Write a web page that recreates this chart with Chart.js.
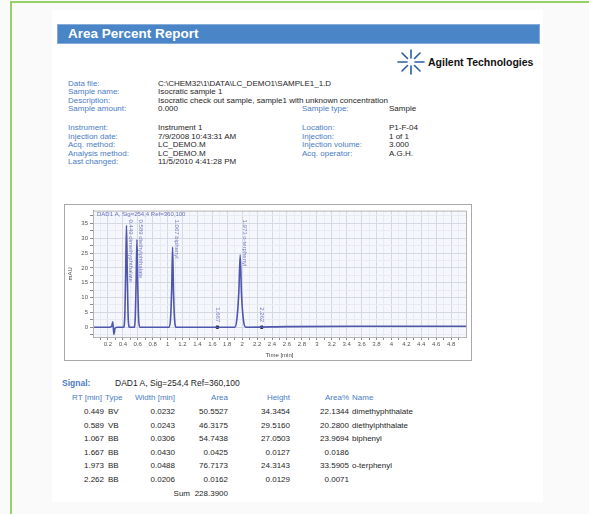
<!DOCTYPE html>
<html>
<head>
<meta charset="utf-8">
<script src="https://cdn.jsdelivr.net/npm/chart.js@4.4.1/dist/chart.umd.min.js"></script>
<style>
  body { margin: 0; width: 589px; height: 514px; position: relative; overflow: hidden;
         background: #fafafa; font-family: "Liberation Sans", Arial, sans-serif; }
  #paper { position: absolute; left: 52px; top: 10px; width: 491px; height: 492px; background: #fff; }
  .gl { position: absolute; background: #95d266; }
  .t { position: absolute; white-space: nowrap; font-size: 8px; line-height: 8px; color: #1e1e1e; }
  .lb { color: #4a7cc4; }
  .bold { font-weight: bold; }
  #bar { position: absolute; left: 57px; top: 24px; width: 481px; height: 18px; background: #4a85c8;
         border: 1px solid #86acd9; }
  #bar span { position: absolute; left: 10px; top: 1px; color: #fff; font-weight: bold; font-size: 13.5px; }
  #frame { position: absolute; left: 64px; top: 204px; width: 408px; height: 157px; box-sizing: border-box;
           border: 1px solid #a9a9a9; background: #fff; }
</style>
</head>
<body>
<div id="paper"></div>
<div class="gl" style="left:10px;top:1px;width:579px;height:1.5px;"></div>
<div class="gl" style="left:10px;top:1px;width:1.5px;height:513px;"></div>

<div id="bar"><span>Area Percent Report</span></div>

<svg style="position:absolute;left:397px;top:49px" width="28" height="26" viewBox="0 0 28 26">
  <g stroke="#2a5ca8" stroke-width="1.6" stroke-linecap="round">
    <line x1="14" y1="1" x2="14" y2="9"/><line x1="14" y1="17" x2="14" y2="25"/>
    <line x1="1" y1="13" x2="10" y2="13"/><line x1="18" y1="13" x2="27" y2="13"/>
    <line x1="5" y1="4" x2="10.5" y2="9.5"/><line x1="17.5" y1="16.5" x2="23" y2="22"/>
    <line x1="23" y1="4" x2="17.5" y2="9.5"/><line x1="10.5" y1="16.5" x2="5" y2="22"/>
  </g>
</svg>
<div class="t bold" style="left:428px;top:57px;font-size:10.5px;line-height:11px;color:#111;">Agilent Technologies</div>

<div class="t lb" style="left:68px;top:80px">Data file:</div>
<div class="t" style="left:158px;top:80px">C:\CHEM32\1\DATA\LC_DEMO1\SAMPLE1_1.D</div>
<div class="t lb" style="left:68px;top:88px">Sample name:</div>
<div class="t" style="left:158px;top:88px">Isocratic sample 1</div>
<div class="t lb" style="left:68px;top:97px">Description:</div>
<div class="t" style="left:158px;top:97px">Isocratic check out sample, sample1 with unknown concentration</div>
<div class="t lb" style="left:68px;top:105px">Sample amount:</div>
<div class="t" style="left:158px;top:105px">0.000</div>
<div class="t lb" style="left:302px;top:105px">Sample type:</div>
<div class="t" style="left:389px;top:105px">Sample</div>

<div class="t lb" style="left:68px;top:124px">Instrument:</div>
<div class="t" style="left:158px;top:124px">Instrument 1</div>
<div class="t lb" style="left:68px;top:133px">Injection date:</div>
<div class="t" style="left:158px;top:133px">7/9/2008 10:43:31 AM</div>
<div class="t lb" style="left:68px;top:141px">Acq. method:</div>
<div class="t" style="left:158px;top:141px">LC_DEMO.M</div>
<div class="t lb" style="left:68px;top:150px">Analysis method:</div>
<div class="t" style="left:158px;top:150px">LC_DEMO.M</div>
<div class="t lb" style="left:68px;top:158px">Last changed:</div>
<div class="t" style="left:158px;top:158px">11/5/2010 4:41:28 PM</div>

<div class="t lb" style="left:302px;top:124px">Location:</div>
<div class="t" style="left:389px;top:124px">P1-F-04</div>
<div class="t lb" style="left:302px;top:133px">Injection:</div>
<div class="t" style="left:389px;top:133px">1 of 1</div>
<div class="t lb" style="left:302px;top:141px">Injection volume:</div>
<div class="t" style="left:389px;top:141px">3.000</div>
<div class="t lb" style="left:302px;top:150px">Acq. operator:</div>
<div class="t" style="left:389px;top:150px">A.G.H.</div>

<div id="frame"><canvas id="chromChart"></canvas></div>

<div class="t lb bold" style="left:62px;top:379px;font-size:8.5px;">Signal:</div>
<div class="t" style="left:115px;top:379px;font-size:8.5px;">DAD1 A, Sig=254,4 Ref=360,100</div>

<script>
// ========= PEAK TABLE =================== //
const peakRT = [0.449, 0.589, 1.067, 1.667, 1.973, 2.262];
const peakType = ["BV", "VB", "BB", "BB", "BB", "BB"];
const peakWidth = [0.0232, 0.0243, 0.0306, 0.0430, 0.0488, 0.0206];
const peakArea = [50.5527, 46.3175, 54.7438, 0.0425, 76.7173, 0.0162];
const peakHeight = [34.3454, 29.5160, 27.0503, 0.0127, 24.3143, 0.0129];
const peakAreaPct = [22.1344, 20.2800, 23.9694, 0.0186, 33.5905, 0.0071];
const peakName = ["dimethyphthalate", "diethylphthalate", "biphenyl", "", "o-terphenyl", ""];
const areaSum = 228.3900;

// ========= SIGNAL TRACE ======================================= //
const traceTime = [0, 0.22, 0.25, 0.265, 0.28, 0.295, 0.32,
  0.41, 0.425, 0.437, 0.449, 0.461, 0.473, 0.49,
  0.55, 0.565, 0.577, 0.589, 0.601, 0.613, 0.63,
  1.02, 1.04, 1.055, 1.067, 1.079, 1.094, 1.115,
  1.9, 1.93, 1.955, 1.973, 1.991, 2.016, 2.05,
  2.6, 3.5, 5.0];
const traceSignal = [0, 0, 0.3, 1.8, -2.4, -0.4, 0,
  0, 3, 17, 34.35, 16, 2.5, 0,
  0, 2.5, 14, 29.52, 13, 2, 0,
  0, 3, 13, 27.05, 12, 2.5, 0,
  0, 3, 12, 24.31, 11, 2.5, 0,
  0.2, 0.3, 0.3];

// ========= AXIS TICKS =================== //
const xTicks = [0.2, 0.4, 0.6, 0.8, 1, 1.2, 1.4, 1.6, 1.8, 2, 2.2, 2.4, 2.6, 2.8,
  3, 3.2, 3.4, 3.6, 3.8, 4, 4.2, 4.4, 4.6, 4.8];
const yTicks = [0, 5, 10, 15, 20, 25, 30, 35];

// ========= TABLE BELOW THE CHART =================== //
function put(text, x, y, right, cls) {
  let d = document.createElement("div");
  d.className = "t " + (cls || "");
  d.textContent = text;
  d.style.left = x + "px";
  d.style.top = (y - 4) + "px";
  if (right) d.style.transform = "translateX(-100%)";
  document.body.appendChild(d);
}
let headY = 398;
put("RT [min]", 102, headY, true, "lb");
put("Type", 105, headY, false, "lb");
put("Width [min]", 175, headY, true, "lb");
put("Area", 228, headY, true, "lb");
put("Height", 290, headY, true, "lb");
put("Area%", 349, headY, true, "lb");
put("Name", 352, headY, false, "lb");
peakRT.forEach((rt, i) => {
  let y = 412 + i * 13.6;
  put(rt.toFixed(3), 104, y, true);
  put(peakType[i], 108, y, false);
  put(peakWidth[i].toFixed(4), 175, y, true);
  put(peakArea[i].toFixed(4), 228, y, true);
  put(peakHeight[i].toFixed(4), 290, y, true);
  put(peakAreaPct[i].toFixed(4), 349, y, true);
  if (peakName[i]) put(peakName[i], 352, y, false);
});
put("Sum", 190, 494, true);
put(areaSum.toFixed(4), 228, 494, true);

// ========= CHART PLUGINS =================== //
let plotBackground = {
  id: "plotBackground",
  beforeDraw(chart) {
    let { ctx, chartArea: a } = chart;
    ctx.save();
    ctx.fillStyle = "#f5f7fc";
    ctx.fillRect(a.left, a.top, a.right - a.left, a.bottom - a.top);
    ctx.restore();
  },
  afterDraw(chart) {
    let { ctx, chartArea: a } = chart;
    ctx.save();
    ctx.strokeStyle = "#b4b4b4";
    ctx.lineWidth = 1;
    ctx.strokeRect(a.left + 0.5, a.top + 0.5, a.right - a.left, a.bottom - a.top);
    ctx.fillStyle = "#6c72bd";
    ctx.font = "6px 'Liberation Sans'";
    ctx.textBaseline = "top";
    ctx.fillText("DAD1 A, Sig=254,4 Ref=360,100", a.left + 4, a.top + 1);
    ctx.restore();
  },
};

let peakLabels = {
  id: "peakLabels",
  afterDatasetsDraw(chart) {
    let { ctx, chartArea: a, scales } = chart;
    ctx.save();
    ctx.font = "6px 'Liberation Sans'";
    ctx.fillStyle = "#7379c6";
    ctx.textBaseline = "middle";
    peakRT.forEach((rt, i) => {
      let txt = rt.toFixed(3) + (peakName[i] ? " " + peakName[i] : "");
      let w = ctx.measureText(txt).width;
      let big = peakHeight[i] > 1;
      let px = scales.x.getPixelForValue(rt) + (big ? 4 : 0);
      let py = scales.y.getPixelForValue(peakHeight[i]);
      let start = Math.max(a.top + 9, py - 5 - w);
      ctx.save();
      ctx.translate(px, start);
      ctx.rotate(Math.PI / 2);
      ctx.fillText(txt, 0, 0);
      ctx.restore();
    });
    ctx.restore();
  },
};

// ========= CHROMATOGRAM =================== //
let isMajor = (list, v) => list.some((t) => Math.abs(t - v) < 1e-6);

let chrom = new Chart(document.getElementById("chromChart").getContext("2d"), {
  type: "line",
  data: {
    datasets: [
      {
        data: traceTime.map((t, i) => ({ x: t, y: traceSignal[i] })),
        borderColor: "#4f56ad",
        borderWidth: 1.6,
        pointRadius: 0,
        cubicInterpolationMode: "monotone",
        fill: false,
      },
      {
        type: "scatter",
        data: peakRT.map((t, i) => ({ x: t, y: peakHeight[i] })).filter((p) => p.y < 1),
        pointStyle: "rect",
        pointRadius: 1.6,
        backgroundColor: "#111",
        borderColor: "#111",
      },
    ],
  },
  options: {
    responsive: true,
    maintainAspectRatio: false,
    animation: false,
    layout: { padding: { left: 1, top: 2, right: 4, bottom: 0 } },
    plugins: { legend: { display: false }, tooltip: { enabled: false } },
    scales: {
      x: {
        type: "linear",
        min: 0,
        max: 5,
        afterBuildTicks: (s) => {
          s.ticks = xTicks.flatMap((v) => [v - 0.1, v]).concat([4.9]).map((v) => ({ value: v }));
        },
        afterFit: (s) => { s.height = 23; },
        grid: {
          color: (c) => (c.tick && isMajor(xTicks, c.tick.value) ? "#d4d9e3" : "#e8ebf1"),
          tickColor: "#8a8a8a",
          tickLength: 3,
        },
        border: { color: "#8a8a8a" },
        ticks: {
          autoSkip: false,
          maxRotation: 0,
          padding: 1,
          color: "#555",
          font: { size: 6, family: "'Liberation Sans'" },
          callback: (v) => (isMajor(xTicks, v) ? String(+v.toFixed(1)) : ""),
        },
        title: {
          display: true,
          text: "Time [min]",
          color: "#444",
          padding: 1,
          font: { size: 6, family: "'Liberation Sans'" },
        },
      },
      y: {
        min: -3.3,
        max: 39.3,
        afterBuildTicks: (s) => {
          s.ticks = yTicks.flatMap((v) => [v - 2.5, v]).concat([37.5]).map((v) => ({ value: v }));
        },
        afterFit: (s) => { s.width = 27; },
        grid: {
          color: (c) => (c.tick && isMajor(yTicks, c.tick.value) ? "#d4d9e3" : "#e8ebf1"),
          tickColor: "#8a8a8a",
          tickLength: 3,
        },
        border: { color: "#8a8a8a" },
        ticks: {
          autoSkip: false,
          padding: 2,
          color: "#555",
          font: { size: 6, family: "'Liberation Sans'" },
          callback: (v) => (isMajor(yTicks, v) ? String(v) : ""),
        },
        title: {
          display: true,
          text: "mAU",
          color: "#444",
          padding: 1,
          font: { size: 6, family: "'Liberation Sans'" },
        },
      },
    },
  },
  plugins: [plotBackground, peakLabels],
});
</script>
</body>
</html>
